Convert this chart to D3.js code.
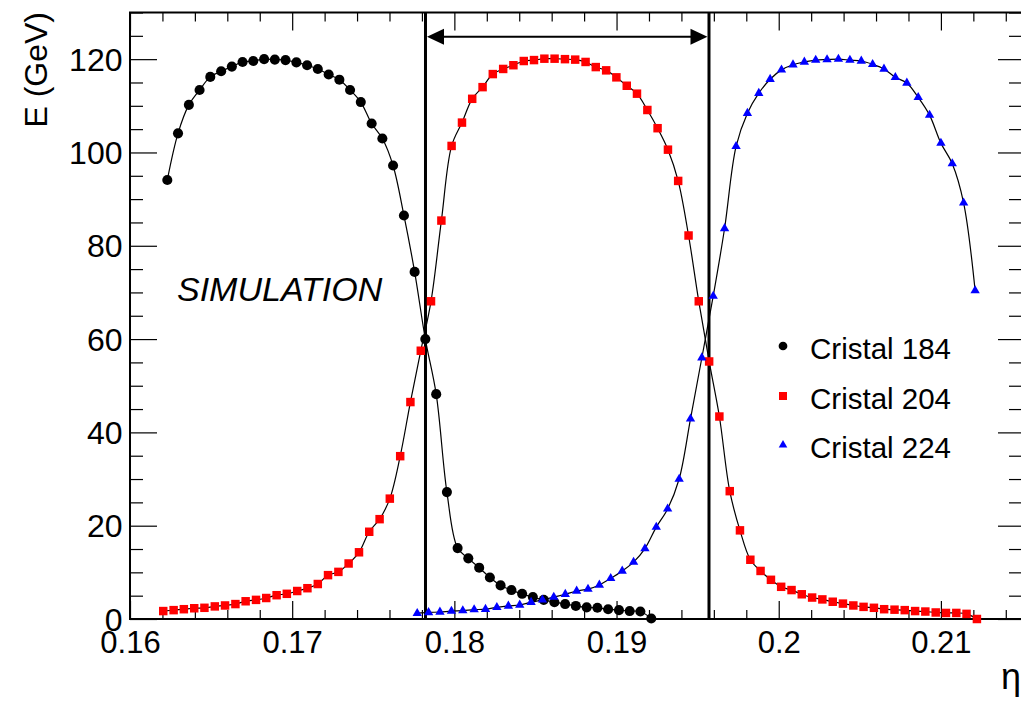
<!DOCTYPE html>
<html>
<head>
<meta charset="utf-8">
<script src="https://cdn.jsdelivr.net/npm/d3@7"></script>
<style>
  html, body { margin: 0; padding: 0; background: #fff; }
  svg { display: block; }
  text { font-family: "Liberation Sans", Arial, sans-serif; fill: #000; }
</style>
</head>
<body>
<svg id="chart" width="1021" height="703"></svg>
<script>
// ---------- data ----------
const eta184 = [0.16230,0.16296,0.16363,0.16429,0.16495,0.16562,0.16628,0.16694,0.16760,0.16827,
  0.16893,0.16959,0.17026,0.17092,0.17158,0.17225,0.17291,0.17357,0.17423,0.17490,
  0.17556,0.17622,0.17689,0.17755,0.17821,0.17888,0.17954,0.18020,0.18086,0.18153,
  0.18219,0.18285,0.18352,0.18418,0.18484,0.18551,0.18617,0.18683,0.18749,0.18816,
  0.18882,0.18948,0.19015,0.19081,0.19147,0.19214];
const e184 = [94.1,104.1,110.2,113.4,116.2,117.4,118.4,119.4,119.6,120.0,
  119.9,119.8,119.3,118.7,117.9,116.7,115.6,113.4,110.8,106.2,
  103.0,97.2,86.5,74.4,60.0,48.2,27.2,15.2,13.0,11.0,
  8.9,7.2,6.2,5.4,4.7,4.1,3.6,3.2,2.8,2.5,
  2.4,2.1,1.9,1.7,1.6,0.1];

const eta204 = [0.16205,0.16269,0.16332,0.16396,0.16459,0.16523,0.16586,0.16650,0.16713,0.16777,
  0.16840,0.16904,0.16967,0.17031,0.17094,0.17158,0.17221,0.17285,0.17348,0.17412,
  0.17475,0.17539,0.17602,0.17666,0.17729,0.17793,0.17856,0.17920,0.17983,0.18047,
  0.18110,0.18174,0.18237,0.18301,0.18364,0.18428,0.18491,0.18555,0.18618,0.18682,
  0.18745,0.18809,0.18872,0.18936,0.18999,0.19063,0.19126,0.19190,0.19253,0.19317,
  0.19380,0.19444,0.19507,0.19571,0.19634,0.19698,0.19761,0.19825,0.19888,0.19952,
  0.20015,0.20079,0.20142,0.20206,0.20269,0.20333,0.20396,0.20460,0.20523,0.20587,
  0.20650,0.20714,0.20777,0.20841,0.20904,0.20968,0.21031,0.21095,0.21158,0.21222];
const e204 = [1.7,1.9,2.1,2.3,2.4,2.7,2.9,3.2,3.8,4.1,
  4.5,5.1,5.4,6.0,6.6,7.5,9.4,10.1,11.9,14.3,
  18.7,21.4,25.8,34.9,46.5,57.5,68.1,85.4,101.4,106.4,
  111.5,114.0,116.8,117.9,118.7,119.6,119.8,120.1,120.1,120.0,
  119.9,119.4,118.3,117.6,116.1,114.3,112.6,109.1,105.2,100.6,
  93.9,82.2,68.1,55.2,43.4,27.4,19.0,12.7,10.3,8.4,
  6.9,6.2,5.3,4.6,4.2,3.7,3.3,2.9,2.6,2.4,
  2.1,2.0,1.9,1.7,1.6,1.4,1.3,1.3,1.1,0.0];

const eta224 = [0.17771,0.17841,0.17911,0.17982,0.18052,0.18122,0.18192,0.18262,0.18333,0.18403,
  0.18473,0.18543,0.18613,0.18684,0.18754,0.18824,0.18894,0.18964,0.19035,0.19105,
  0.19175,0.19245,0.19315,0.19386,0.19456,0.19526,0.19596,0.19666,0.19737,0.19807,
  0.19877,0.19947,0.20017,0.20088,0.20158,0.20228,0.20298,0.20368,0.20439,0.20509,
  0.20579,0.20649,0.20719,0.20790,0.20860,0.20930,0.21000,0.21070,0.21140,0.21211];
const e224 = [1.2,1.4,1.5,1.7,1.8,2.0,2.1,2.5,2.8,3.0,
  3.6,4.1,4.7,5.3,6.0,6.4,7.3,8.7,10.3,12.2,
  15.1,19.7,23.6,30.0,42.9,56.0,69.2,83.7,101.3,108.4,
  112.7,115.7,117.7,118.8,119.4,119.8,119.9,120.0,119.8,119.6,
  118.9,117.9,116.1,114.9,111.8,108.0,102.0,97.6,89.2,70.4];

const seriesNames = ["Cristal 184", "Cristal 204", "Cristal 224"];
const seriesColors = ["#000000", "#ff0000", "#0000ff"];
const xTicks = [0.16, 0.17, 0.18, 0.19, 0.20, 0.21];
const xTickLabels = ["0.16", "0.17", "0.18", "0.19", "0.2", "0.21"];
const yTicks = [0, 20, 40, 60, 80, 100, 120];
const yTickLabels = ["0", "20", "40", "60", "80", "100", "120"];
const boundaries = [0.17822, 0.19570];
const arrowLevel = 124.8;
const xDomain = [0.16, 0.215];
const yDomain = [0, 130];

// ---------- layout ----------
const L = 130, R = 1022, T = 12.5, B = 619;
const svg = d3.select("#chart");
svg.append("rect").attr("width", 1021).attr("height", 703).attr("fill", "#fff");

const x = d3.scaleLinear().domain(xDomain).range([L, R]);
const y = d3.scaleLinear().domain(yDomain).range([B, T]);

const xMinor = d3.range(0.16, 0.2151, 0.002).filter(v => !xTicks.some(t => Math.abs(t - v) < 1e-9));
const yMinor = d3.range(0, 130.1, 5).filter(v => v % 20 !== 0);

function styleAxis(g) {
  g.select(".domain").remove();
  g.selectAll("line").attr("stroke", "#000").attr("stroke-width", 1.2);
}

// bottom axis
svg.append("g").attr("transform", `translate(0,${B})`)
  .call(d3.axisBottom(x).tickValues(xTicks).tickSize(-18).tickFormat((d, i) => xTickLabels[i]))
  .call(styleAxis)
  .call(g => g.selectAll("text").attr("font-size", 31).attr("y", 0).attr("dy", 34)
      .attr("font-family", "Liberation Sans, Arial, sans-serif").attr("fill", "#000"));
svg.append("g").attr("transform", `translate(0,${B})`)
  .call(d3.axisBottom(x).tickValues(xMinor).tickSize(-9).tickFormat(""))
  .call(styleAxis);
// top axis
svg.append("g").attr("transform", `translate(0,${T})`)
  .call(d3.axisTop(x).tickValues(xTicks).tickSize(-18).tickFormat(""))
  .call(styleAxis);
svg.append("g").attr("transform", `translate(0,${T})`)
  .call(d3.axisTop(x).tickValues(xMinor).tickSize(-9).tickFormat(""))
  .call(styleAxis);
// left axis
svg.append("g").attr("transform", `translate(${L},0)`)
  .call(d3.axisLeft(y).tickValues(yTicks).tickSize(-27).tickFormat((d, i) => yTickLabels[i]))
  .call(styleAxis)
  .call(g => g.selectAll("text").attr("font-size", 32).attr("x", -7.5).attr("dy", 11)
      .attr("font-family", "Liberation Sans, Arial, sans-serif").attr("fill", "#000"));
svg.append("g").attr("transform", `translate(${L},0)`)
  .call(d3.axisLeft(y).tickValues(yMinor).tickSize(-13).tickFormat(""))
  .call(styleAxis);
// right axis
svg.append("g").attr("transform", `translate(${R},0)`)
  .call(d3.axisRight(y).tickValues(yTicks).tickSize(-24).tickFormat(""))
  .call(styleAxis);
svg.append("g").attr("transform", `translate(${R},0)`)
  .call(d3.axisRight(y).tickValues(yMinor).tickSize(-13).tickFormat(""))
  .call(styleAxis);

// frame
svg.append("rect").attr("x", L).attr("y", T).attr("width", R - L).attr("height", B - T)
  .attr("fill", "none").attr("stroke", "#000").attr("stroke-width", 2);

// axis titles
svg.append("text").attr("transform", `translate(47,12) rotate(-90)`)
  .attr("text-anchor", "end").attr("font-size", 32).text("E (GeV)");
svg.append("text").attr("x", 1021).attr("y", 689).attr("text-anchor", "end")
  .attr("font-size", 36).attr("font-family", "Liberation Serif, serif").text("η");

// ---------- series ----------
const series = [
  { eta: eta184, e: e184, sym: d3.symbolCircle, size: 80, lsize: 60 },
  { eta: eta204, e: e204, sym: d3.symbolSquare, size: 72, lsize: 64 },
  { eta: eta224, e: e224, sym: d3.symbolTriangle, size: 38, lsize: 32 }
];

const line = d3.line().x(d => x(d[0])).y(d => y(d[1])).curve(d3.curveCatmullRom.alpha(0.5));
series.forEach(s => {
  const pts = s.eta.map((v, i) => [v, s.e[i]]);
  svg.append("path").attr("d", line(pts)).attr("fill", "none")
    .attr("stroke", "#000").attr("stroke-width", 1.2);
});

// boundary lines
boundaries.forEach(b => {
  svg.append("line").attr("x1", x(b)).attr("x2", x(b)).attr("y1", T).attr("y2", B)
    .attr("stroke", "#000").attr("stroke-width", 3);
});

series.forEach((s, k) => {
  const pts = s.eta.map((v, i) => [v, s.e[i]]);
  svg.append("g").selectAll("path").data(pts).join("path")
    .attr("transform", d => `translate(${x(d[0])},${y(d[1])})`)
    .attr("d", d3.symbol().type(s.sym).size(s.size)())
    .attr("fill", seriesColors[k]);
});

// arrow
const ay = y(arrowLevel), ax1 = x(boundaries[0]) + 1.5, ax2 = x(boundaries[1]) - 1.5;
svg.append("line").attr("x1", ax1 + 10).attr("x2", ax2 - 10).attr("y1", ay).attr("y2", ay)
  .attr("stroke", "#000").attr("stroke-width", 2.2);
svg.append("path").attr("d", `M${ax1},${ay}L${ax1 + 17},${ay - 8}L${ax1 + 17},${ay + 8}Z`).attr("fill", "#000");
svg.append("path").attr("d", `M${ax2},${ay}L${ax2 - 17},${ay - 8}L${ax2 - 17},${ay + 8}Z`).attr("fill", "#000");

// SIMULATION label
svg.append("text").attr("x", 177).attr("y", 301).attr("font-size", 34)
  .attr("font-style", "italic").text("SIMULATION");

// legend
const legY = [346, 396, 445];
series.forEach((s, k) => {
  svg.append("path").attr("transform", `translate(783,${legY[k]})`)
    .attr("d", d3.symbol().type(s.sym).size(s.lsize)()).attr("fill", seriesColors[k]);
  svg.append("text").attr("x", 810).attr("y", legY[k] + 13).attr("font-size", 29.5)
    .text(seriesNames[k]);
});
</script>
</body>
</html>
